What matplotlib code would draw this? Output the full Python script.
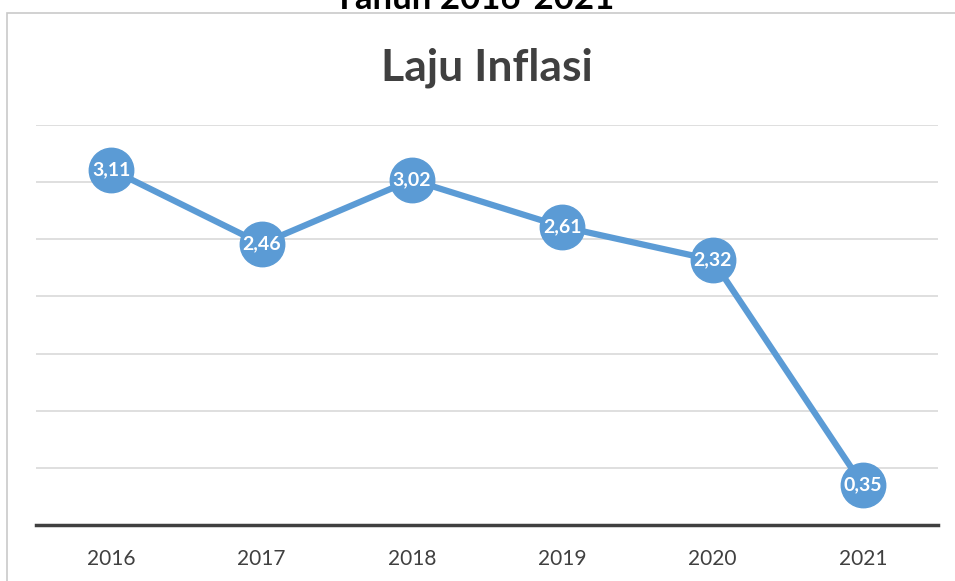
import matplotlib
matplotlib.use("Agg")
import matplotlib.pyplot as plt
from matplotlib.patches import Rectangle

years = ["2016", "2017", "2018", "2019", "2020", "2021"]
inflation = [3.11, 2.46, 3.02, 2.61, 2.32, 0.35]
labels = ["3,11", "2,46", "3,02", "2,61", "2,32", "0,35"]

plt.rcParams['font.family'] = ['Lato', 'DejaVu Sans']

W, H = 955, 581
fig = plt.figure(figsize=(W / 100, H / 100), dpi=100)
fig.patch.set_facecolor('white')

# chart border
fig.patches.append(Rectangle((7 / W, -0.1), 1.2, 1.1 - 13 / H, transform=fig.transFigure,
                             fill=False, edgecolor='#c9c9c9', linewidth=1.2))

ax = fig.add_axes([36 / W, 1 - 525 / H, (938 - 36) / W, (525 - 125) / H])
x = list(range(len(years)))
color = '#5B9BD5'
ax.plot(x, inflation, color=color, linewidth=4.5, marker='o', markersize=32,
        markerfacecolor=color, markeredgecolor=color, zorder=3, solid_capstyle='round')
for xi, yi, lab in zip(x, inflation, labels):
    ax.text(xi, yi, lab, ha='center', va='center', color='white', fontsize=14,
            fontweight='bold', zorder=4)

ax.set_xlim(-0.5, 5.5)
ax.set_ylim(0, 3.5)
ax.set_yticks([0.5, 1.0, 1.5, 2.0, 2.5, 3.0, 3.5])
ax.yaxis.grid(True, color='#d9d9d9', linewidth=1.2)
ax.set_axisbelow(True)
ax.tick_params(axis='y', left=False, labelleft=False)
ax.set_xticks(x)
ax.set_xticklabels(years, fontsize=15, color='#404040')
ax.tick_params(axis='x', length=0, pad=17)
for s in ['top', 'right', 'left']:
    ax.spines[s].set_visible(False)
ax.spines['bottom'].set_color('#404040')
ax.spines['bottom'].set_linewidth(2.5)
ax.patch.set_alpha(0)

fig.text(487 / W, 1 - 68 / H, "Laju Inflasi", ha='center', va='center',
         fontsize=32, fontweight='bold', color='#404040')
fig.text(474 / W, 1 - 9 / H, "Tahun 2016-2021", ha='center', va='baseline',
         fontsize=25, fontweight='bold', color='black')

fig.savefig("out.png", dpi=100)
